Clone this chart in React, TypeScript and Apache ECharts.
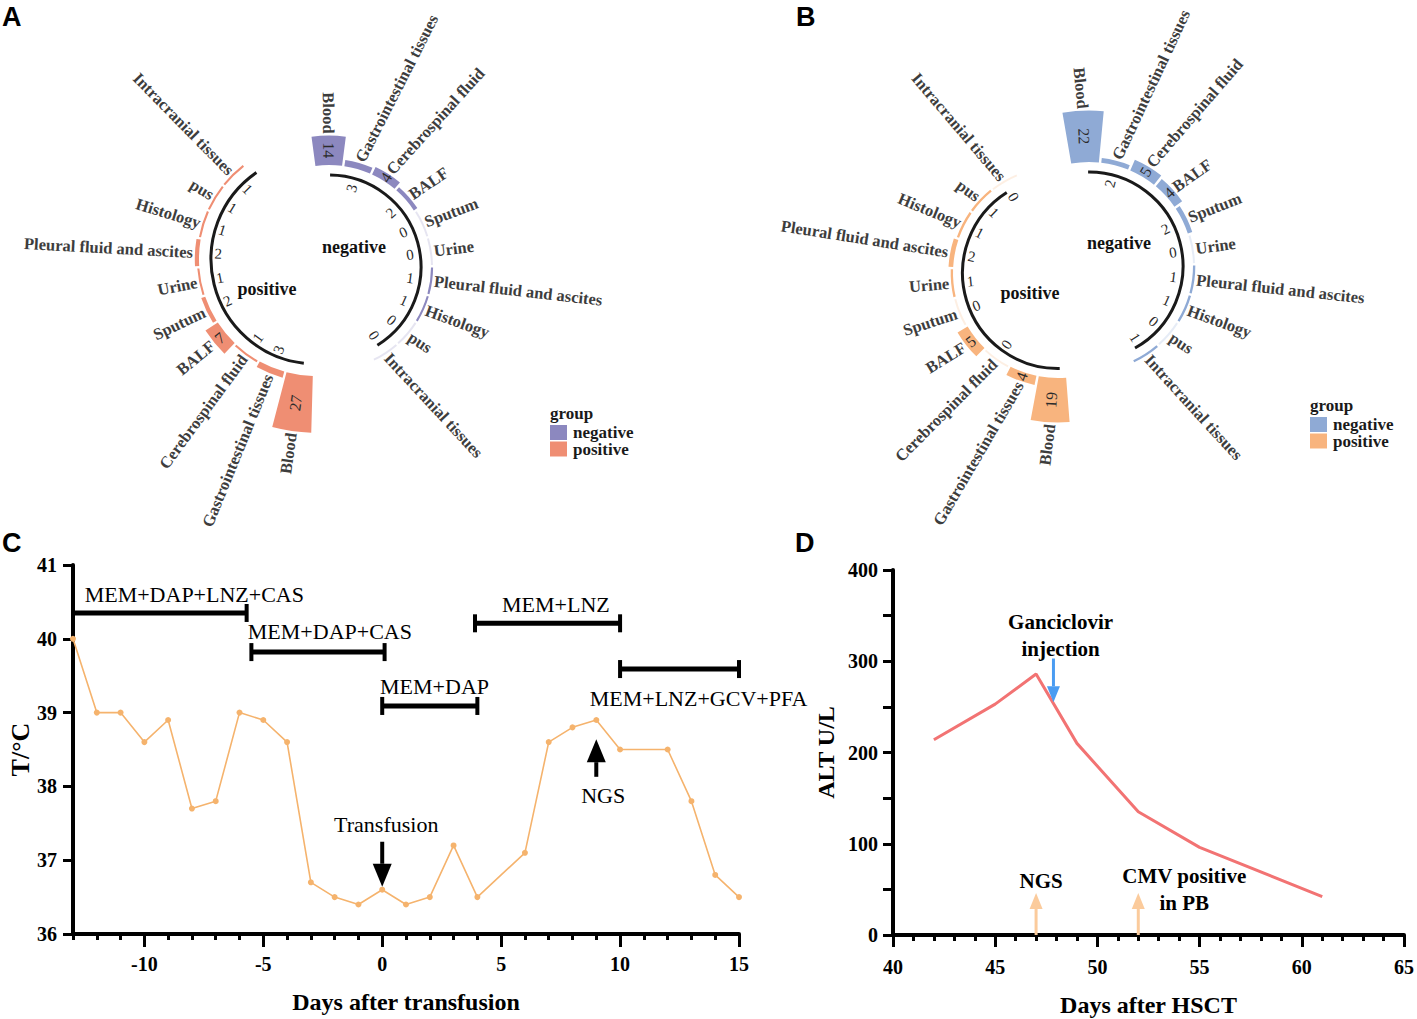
import React, { useEffect, useRef } from 'react';
import * as echarts from 'echarts';

// ---------------- Panels A & B (circular bar charts) ----------------
const sites = [
  'Blood',
  'Gastrointestinal tissues',
  'Cerebrospinal fluid',
  'BALF',
  'Sputum',
  'Urine',
  'Pleural fluid and ascites',
  'Histology',
  'pus',
  'Intracranial tissues',
];
const aPositive = [27, 3, 1, 7, 2, 1, 2, 1, 1, 1];
const aNegative = [14, 3, 4, 2, 0, 0, 1, 1, 0, 0];
const bPositive = [19, 4, 0, 5, 0, 1, 2, 1, 1, 0];
const bNegative = [22, 2, 5, 4, 2, 0, 1, 1, 0, 1];
const groupNames = ['negative', 'positive'];

// ---------------- Panel C ----------------
const tempDays = [-13, -12, -11, -10, -9, -8, -7, -6, -5, -4, -3, -2, -1, 0, 1, 2, 3, 4, 6, 7, 8, 9, 10, 12, 13, 14, 15];
const tempValues = [40.0, 39.0, 39.0, 38.6, 38.9, 37.7, 37.8, 39.0, 38.9, 38.6, 36.7, 36.5, 36.4, 36.6, 36.4, 36.5, 37.2, 36.5, 37.1, 38.6, 38.8, 38.9, 38.5, 38.5, 37.8, 36.8, 36.5];
const cTickLabels = [-10, -5, 0, 5, 10, 15];
const treatNames = ['MEM+DAP+LNZ+CAS', 'MEM+DAP+CAS', 'MEM+DAP', 'MEM+LNZ', 'MEM+LNZ+GCV+PFA'];
const treatStart = [-13, -5.5, 0, 3.9, 10];
const treatEnd = [-5.7, 0.1, 4, 10, 15];
const treatLevel = [40.35, 39.82, 39.09, 40.21, 39.59];
const treatLabelX = [-7.9, -2.2, 2.2, 7.3, 13.3];
const treatLabelY = [40.6, 40.1, 39.35, 40.47, 39.19];
const cArrowX = [0, 9];
const cArrowFrom = [37.25, 38.13];
const cArrowTo = [36.64, 38.64];
const cNoteText = ['Transfusion', 'NGS'];
const cNoteX = [0.17, 9.29];
const cNoteY = [37.49, 37.88];

// ---------------- Panel D ----------------
const altDays = [42, 45, 47, 49, 52, 55, 61];
const altValues = [214, 253, 286, 210, 135, 96, 42];
const dTickLabels = [40, 45, 50, 55, 60, 65];
const dArrowX = [47.85, 47, 52];
const dArrowFrom = [303, 0, 0];
const dArrowTo = [255, 46, 46];
const dNoteText = ['Ganciclovir\ninjection', 'NGS', 'CMV positive\nin PB'];
const dNoteX = [48.2, 47.25, 54.25];
const dNoteY = [328, 59, 50];

// ---------------- styles / layout ----------------
const SERIF = '"Liberation Serif", "Times New Roman", serif';
const SANS = '"Liberation Sans", Arial, sans-serif';

const polarCfg = [
  { values: aPositive, name: 'positive', center: [316, 259], zeroR: 117, scale: 2.1, step: 14.16, start: 269.0, arc: [0.4, 10.2], arcGap: 12, numGap: 19, color: '#EF8E73', compress: false },
  { values: aNegative, name: 'negative', center: [329, 267], zeroR: 102, scale: 2.1, step: 16.31, start: 98.3, arc: [0.55, 9.6], arcGap: 10, numGap: 20, color: '#8C88BF', compress: true },
  { values: bPositive, name: 'positive', center: [1058, 273], zeroR: 105, scale: 2.34, step: 16.29, start: 275.1, arc: [0.25, 9.37], arcGap: 9.5, numGap: 17, color: '#F8B47E', compress: true },
  { values: bNegative, name: 'negative', center: [1089, 266], zeroR: 104, scale: 2.34, step: 16.6, start: 100.5, arc: [0.6, 9.71], arcGap: 10, numGap: 19, color: '#8FAAD5', compress: true },
];

function polarRender(cfg: any) {
  return (params: any, api: any) => {
    const cs = params.coordSys;
    const cx = cs.cx;
    const cy = cs.cy;
    const v = api.value(0) as number;
    const k = api.value(1) as number;
    const ang = (r: number, a: number) => {
      const p = api.coord([r, a]);
      return Math.atan2(p[1] - cy, p[0] - cx);
    };
    const rad = (r: number) => {
      const p = api.coord([r, k + 0.5]);
      return Math.hypot(p[0] - cx, p[1] - cy);
    };
    let a0 = ang(0, k + 0.04);
    let a1 = ang(0, k + 0.96);
    while (a1 < a0) a1 += Math.PI * 2;
    const rIn = rad(0);
    let rOut = rad(v);
    if (rOut - rIn < 2) rOut = rIn + 2;
    const mid = (a0 + a1) / 2;
    const m = -mid;
    const right = Math.cos(m) >= 0;
    let rotation = right ? m : m + Math.PI;
    while (rotation > Math.PI / 2) rotation -= Math.PI * 2;
    while (rotation < -Math.PI / 2) rotation += Math.PI * 2;
    if (rotation > Math.PI / 2) rotation -= Math.PI;
    let labelRot = rotation;
    if (cfg.compress) {
      const f = Math.abs(rotation) / (Math.PI / 2);
      labelRot = rotation * (0.83 + 0.17 * Math.pow(f, 10));
    }
    const children: any[] = [];
    children.push({
      type: 'sector',
      shape: { cx, cy, r0: rIn, r: rOut, startAngle: a0, endAngle: a1, clockwise: true },
      style: { fill: cfg.color, opacity: v === 0 ? 0.22 : 1 },
    });
    const inside = v >= 4;
    const rNum = inside ? (rIn + rOut) / 2 : rIn - cfg.numGap;
    children.push({
      type: 'text',
      x: cx + rNum * Math.cos(mid),
      y: cy + rNum * Math.sin(mid),
      rotation,
      style: { text: String(v), fill: '#2b2b2b', font: `${inside ? 16 : 15}px ${SERIF}`, align: 'center', verticalAlign: 'middle' },
    });
    const rLab = rOut + 2;
    children.push({
      type: 'text',
      x: cx + rLab * Math.cos(mid),
      y: cy + rLab * Math.sin(mid),
      rotation: labelRot,
      style: { text: sites[k], fill: '#3d3d3d', font: `bold 16.5px ${SERIF}`, align: right ? 'left' : 'right', verticalAlign: 'middle' },
    });
    if (params.dataIndex === 0) {
      const s0 = ang(0, cfg.arc[0]);
      let s1 = ang(0, cfg.arc[1]);
      while (s1 < s0) s1 += Math.PI * 2;
      children.push({
        type: 'arc',
        shape: { cx, cy, r: rIn - cfg.arcGap, startAngle: s0, endAngle: s1, clockwise: true },
        style: { stroke: '#1a1a1a', lineWidth: 3, fill: 'none' },
      });
    }
    return { type: 'group', children };
  };
}

function arrowRender(colors: string[], headLen: number, headW: number, shaftW: number) {
  return (params: any, api: any) => {
    const i = params.dataIndex;
    const x = api.value(0);
    const p0 = api.coord([x, api.value(1)]);
    const p1 = api.coord([x, api.value(2)]);
    const dx = p1[0] - p0[0];
    const dy = p1[1] - p0[1];
    const len = Math.hypot(dx, dy) || 1;
    const ux = dx / len;
    const uy = dy / len;
    const bx = p1[0] - ux * headLen;
    const by = p1[1] - uy * headLen;
    return {
      type: 'group',
      children: [
        { type: 'line', shape: { x1: p0[0], y1: p0[1], x2: bx, y2: by }, style: { stroke: colors[i], lineWidth: shaftW } },
        {
          type: 'polygon',
          shape: { points: [[p1[0], p1[1]], [bx - (uy * headW) / 2, by + (ux * headW) / 2], [bx + (uy * headW) / 2, by - (ux * headW) / 2]] },
          style: { fill: colors[i] },
        },
      ],
    };
  };
}

function noteRender(texts: string[], font: string) {
  return (params: any, api: any) => {
    const p = api.coord([api.value(0), api.value(1)]);
    return {
      type: 'text',
      x: p[0],
      y: p[1],
      style: { text: texts[params.dataIndex], font, fill: '#000', align: 'center', verticalAlign: 'middle', lineHeight: 27 },
    };
  };
}

function treatRender(params: any, api: any) {
  const i = params.dataIndex;
  const s = api.coord([api.value(0), api.value(2)]);
  const e = api.coord([api.value(1), api.value(2)]);
  const l = api.coord([api.value(3), api.value(4)]);
  const cap = 9;
  return {
    type: 'group',
    children: [
      { type: 'line', shape: { x1: s[0], y1: s[1], x2: e[0], y2: e[1] }, style: { stroke: '#000', lineWidth: 5 } },
      { type: 'line', shape: { x1: s[0], y1: s[1] - cap, x2: s[0], y2: s[1] + cap }, style: { stroke: '#000', lineWidth: 4 } },
      { type: 'line', shape: { x1: e[0], y1: e[1] - cap, x2: e[0], y2: e[1] + cap }, style: { stroke: '#000', lineWidth: 4 } },
      {
        type: 'text',
        x: l[0],
        y: l[1],
        style: { text: treatNames[i], font: `22px ${SERIF}`, fill: '#000', align: 'center', verticalAlign: 'middle' },
      },
    ],
  };
}

const tickLabelStyle = { fontFamily: SERIF, fontWeight: 'bold' as const, fontSize: 20, color: '#000' };
const axisNameStyle = { fontFamily: SERIF, fontWeight: 'bold' as const, fontSize: 24, color: '#000' };

function legendGraphic(x: number, y: number, colors: string[]) {
  const els: any[] = [
    { type: 'text', x, y, style: { text: 'group', font: `bold 17px ${SERIF}`, fill: '#1a1a1a', align: 'left', verticalAlign: 'middle' } },
  ];
  groupNames.forEach((g, i) => {
    els.push({ type: 'rect', shape: { x, y: y + 12 + i * 16.5, width: 17, height: 15 }, style: { fill: colors[i] } });
    els.push({
      type: 'text',
      x: x + 23,
      y: y + 19.5 + i * 16.5,
      style: { text: g, font: `bold 17px ${SERIF}`, fill: '#1a1a1a', align: 'left', verticalAlign: 'middle' },
    });
  });
  return els;
}

function buildOption(): any {
  const polarSeries = polarCfg.map((cfg, i) => ({
    type: 'custom',
    name: cfg.name,
    coordinateSystem: 'polar',
    polarIndex: i,
    renderItem: polarRender(cfg),
    data: cfg.values.map((v, k) => [v, k]),
    itemStyle: { color: cfg.color },
  }));

  return {
    animation: false,
    backgroundColor: '#fff',
    polar: polarCfg.map((p) => ({ center: p.center, radius: [p.zeroR, p.zeroR + 30 * p.scale] })),
    angleAxis: polarCfg.map((p, i) => ({
      polarIndex: i,
      type: 'value',
      min: 0,
      max: 360 / p.step,
      startAngle: p.start,
      clockwise: true,
      show: false,
    })),
    radiusAxis: polarCfg.map((p, i) => ({ polarIndex: i, type: 'value', min: 0, max: 30, show: false })),
    grid: [
      { left: 73, top: 565, width: 666, height: 369 },
      { left: 893, top: 570, width: 515, height: 365 },
    ],
    xAxis: [
      {
        type: 'value',
        gridIndex: 0,
        position: 'bottom',
        min: -13,
        max: 15,
        interval: 1,
        axisLine: { show: true, onZero: false, lineStyle: { color: '#000', width: 4 } },
        axisTick: { show: true, length: 6, lineStyle: { color: '#000', width: 3 } },
        axisLabel: { ...tickLabelStyle, margin: 20, formatter: (v: number) => (cTickLabels.includes(v) ? String(v) : '') },
        splitLine: { show: false },
        name: 'Days after transfusion',
        nameLocation: 'middle',
        nameGap: 56,
        nameTextStyle: axisNameStyle,
      },
      {
        type: 'value',
        gridIndex: 0,
        position: 'bottom',
        min: -13,
        max: 15,
        axisLine: { show: false, onZero: false },
        axisTick: { show: true, length: 13, customValues: cTickLabels, lineStyle: { color: '#000', width: 3 } },
        axisLabel: { show: false },
        splitLine: { show: false },
      },
      {
        type: 'value',
        gridIndex: 1,
        position: 'bottom',
        min: 40,
        max: 65,
        interval: 1,
        axisLine: { show: true, onZero: false, lineStyle: { color: '#000', width: 4 } },
        axisTick: { show: true, length: 6, lineStyle: { color: '#000', width: 3 } },
        axisLabel: { ...tickLabelStyle, margin: 22, formatter: (v: number) => (dTickLabels.includes(v) ? String(v) : '') },
        splitLine: { show: false },
        name: 'Days after HSCT',
        nameLocation: 'middle',
        nameGap: 58,
        nameTextStyle: axisNameStyle,
      },
      {
        type: 'value',
        gridIndex: 1,
        position: 'bottom',
        min: 40,
        max: 65,
        axisLine: { show: false, onZero: false },
        axisTick: { show: true, length: 12, customValues: dTickLabels, lineStyle: { color: '#000', width: 3 } },
        axisLabel: { show: false },
        splitLine: { show: false },
      },
    ],
    yAxis: [
      {
        type: 'value',
        gridIndex: 0,
        min: 36,
        max: 41,
        interval: 1,
        axisLine: { show: true, onZero: false, lineStyle: { color: '#000', width: 4 } },
        axisTick: { show: true, length: 10, lineStyle: { color: '#000', width: 3 } },
        axisLabel: { ...tickLabelStyle, margin: 16 },
        splitLine: { show: false },
        name: 'T/°C',
        nameLocation: 'middle',
        nameGap: 38,
        nameTextStyle: { ...axisNameStyle, fontSize: 26 },
      },
      {
        type: 'value',
        gridIndex: 1,
        min: 0,
        max: 400,
        interval: 50,
        axisLine: { show: true, onZero: false, lineStyle: { color: '#000', width: 4 } },
        axisTick: { show: true, length: 10, lineStyle: { color: '#000', width: 3 } },
        axisLabel: { ...tickLabelStyle, margin: 15, formatter: (v: number) => (v % 100 === 0 ? String(v) : '') },
        splitLine: { show: false },
        name: 'ALT U/L',
        nameLocation: 'middle',
        nameGap: 55,
        nameTextStyle: axisNameStyle,
      },
    ],
    series: [
      ...polarSeries,
      {
        type: 'line',
        name: 'Temperature',
        xAxisIndex: 0,
        yAxisIndex: 0,
        data: tempDays.map((d, i) => [d, tempValues[i]]),
        symbol: 'circle',
        symbolSize: 6,
        lineStyle: { color: '#F5B36D', width: 1.6 },
        itemStyle: { color: '#F5B36D' },
        z: 3,
      },
      {
        type: 'custom',
        name: 'Treatments',
        xAxisIndex: 0,
        yAxisIndex: 0,
        renderItem: treatRender,
        data: treatNames.map((_, i) => [treatStart[i], treatEnd[i], treatLevel[i], treatLabelX[i], treatLabelY[i]]),
        z: 4,
      },
      {
        type: 'custom',
        name: 'C arrows',
        xAxisIndex: 0,
        yAxisIndex: 0,
        renderItem: arrowRender(['#000', '#000'], 23, 19, 4),
        data: cArrowX.map((x, i) => [x, cArrowFrom[i], cArrowTo[i]]),
        z: 5,
      },
      {
        type: 'custom',
        name: 'C notes',
        xAxisIndex: 0,
        yAxisIndex: 0,
        renderItem: noteRender(cNoteText, `22px ${SERIF}`),
        data: cNoteX.map((x, i) => [x, cNoteY[i]]),
        z: 5,
      },
      {
        type: 'line',
        name: 'ALT',
        xAxisIndex: 2,
        yAxisIndex: 1,
        data: altDays.map((d, i) => [d, altValues[i]]),
        showSymbol: false,
        symbol: 'none',
        lineStyle: { color: '#F27373', width: 3 },
        itemStyle: { color: '#F27373' },
        z: 3,
      },
      {
        type: 'custom',
        name: 'D arrows',
        xAxisIndex: 2,
        yAxisIndex: 1,
        renderItem: arrowRender(['#4A9CF2', '#FBCB9C', '#FBCB9C'], 16, 13, 3),
        data: dArrowX.map((x, i) => [x, dArrowFrom[i], dArrowTo[i]]),
        z: 5,
      },
      {
        type: 'custom',
        name: 'D notes',
        xAxisIndex: 2,
        yAxisIndex: 1,
        renderItem: noteRender(dNoteText, `bold 21px ${SERIF}`),
        data: dNoteX.map((x, i) => [x, dNoteY[i]]),
        z: 5,
      },
    ],
    graphic: [
      { type: 'text', x: 2, y: 3, style: { text: 'A', font: `bold 27px ${SANS}`, fill: '#000' } },
      { type: 'text', x: 796, y: 3, style: { text: 'B', font: `bold 27px ${SANS}`, fill: '#000' } },
      { type: 'text', x: 2, y: 529, style: { text: 'C', font: `bold 27px ${SANS}`, fill: '#000' } },
      { type: 'text', x: 795, y: 529, style: { text: 'D', font: `bold 27px ${SANS}`, fill: '#000' } },
      { type: 'text', x: 267, y: 289, style: { text: 'positive', font: `bold 18px ${SERIF}`, fill: '#111', align: 'center', verticalAlign: 'middle' } },
      { type: 'text', x: 354, y: 247, style: { text: 'negative', font: `bold 18px ${SERIF}`, fill: '#111', align: 'center', verticalAlign: 'middle' } },
      { type: 'text', x: 1030, y: 293, style: { text: 'positive', font: `bold 18px ${SERIF}`, fill: '#111', align: 'center', verticalAlign: 'middle' } },
      { type: 'text', x: 1119, y: 243, style: { text: 'negative', font: `bold 18px ${SERIF}`, fill: '#111', align: 'center', verticalAlign: 'middle' } },
      ...legendGraphic(550, 413, [polarCfg[1].color, polarCfg[0].color]),
      ...legendGraphic(1310, 405, [polarCfg[3].color, polarCfg[2].color]),
    ],
  };
}

export default function App() {
  const ref = useRef<HTMLDivElement>(null);
  useEffect(() => {
    if (!ref.current) return;
    const chart = echarts.init(ref.current, null, { renderer: 'svg' });
    chart.setOption(buildOption());
    return () => chart.dispose();
  }, []);
  return (
    <div
      ref={ref}
      style={{ position: 'absolute', left: 0, top: 0, width: 1417, height: 1019, background: '#fff' }}
    />
  );
}
